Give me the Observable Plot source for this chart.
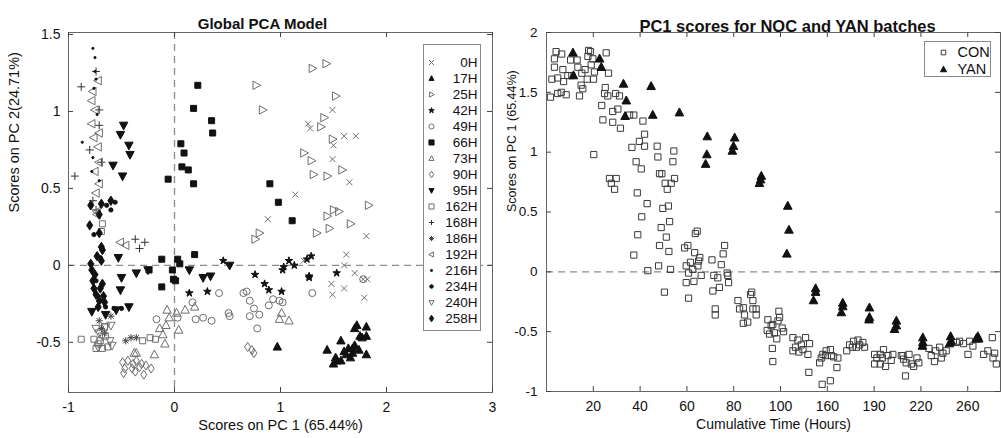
<!DOCTYPE html>
<html><head><meta charset="utf-8">
<script src="https://cdn.jsdelivr.net/npm/d3@7"></script>
<script src="https://cdn.jsdelivr.net/npm/@observablehq/plot@0.6"></script>
<style>
body{margin:0;background:#fff;font-family:"Liberation Sans",Arial,sans-serif;}
#wrap{position:relative;width:1003px;height:438px;overflow:hidden;background:#fff}
#wrap svg{position:absolute;top:0}
.lg{position:absolute;border:1px solid #8a8a8a;background:#fff;}
.lg svg{position:static !important;display:block}
</style></head>
<body><div id="wrap"></div>
<script>
// ---------- Left panel data: PCA scores [PC1, PC2] per sampling time ----------
const h0   = [[1.49,1.01],[1.26,0.92],[1.28,0.89],[1.60,0.84],[1.71,0.84],[1.50,0.78],[1.49,0.69],[1.65,0.54],[1.14,0.46],[0.88,0.30],[1.81,0.19],[1.62,0.07],[1.60,0.00],[1.22,0.03],[1.70,-0.05],[1.78,-0.09],[1.82,-0.09],[1.48,-0.12],[1.60,-0.15],[1.49,-0.19],[1.79,-0.21]];
const h17  = [[1.72,-0.39],[1.81,-0.40],[1.70,-0.41],[1.75,-0.46],[1.81,-0.46],[1.77,-0.47],[1.57,-0.49],[1.44,-0.55],[1.64,-0.54],[1.68,-0.54],[1.68,-0.57],[1.74,-0.55],[1.81,-0.58],[1.62,-0.58],[1.66,-0.60],[1.52,-0.60],[1.57,-0.62],[1.50,-0.64],[1.53,-0.62],[0.97,-0.53],[1.60,-0.56],[1.70,-0.52]];
const h25  = [[1.30,1.28],[1.43,1.31],[0.77,1.17],[1.52,1.10],[0.83,1.01],[1.41,0.96],[1.38,0.90],[1.49,0.82],[1.22,0.73],[1.29,0.68],[1.31,0.59],[1.44,0.58],[1.58,0.62],[1.83,0.39],[1.50,0.36],[1.55,0.35],[1.44,0.32],[0.80,0.21],[0.76,0.17],[1.34,0.21],[1.46,0.24],[1.66,0.27]];
const h42  = [[1.29,0.06],[1.25,0.04],[1.08,0.03],[1.13,0.00],[1.03,-0.01],[1.02,-0.03],[1.27,-0.07],[1.27,-0.08],[1.53,-0.05],[0.76,-0.06],[0.85,-0.12],[0.89,-0.16],[1.01,-0.17],[0.46,0.03],[0.14,-0.18],[0.31,-0.17]];
const h49  = [[0.65,-0.18],[0.68,-0.17],[0.71,-0.23],[0.75,-0.28],[0.71,-0.33],[0.80,-0.32],[0.78,-0.41],[0.89,-0.26],[0.93,-0.22],[0.99,-0.23],[1.02,-0.24],[1.30,-0.18],[1.78,-0.09],[-0.17,-0.35],[0.17,-0.24],[0.20,-0.35],[0.27,-0.34],[0.35,-0.36],[0.42,-0.18],[0.51,-0.31],[0.52,-0.33],[0.03,-0.34]];
const h66  = [[0.22,1.17],[0.18,1.02],[0.35,0.94],[0.36,0.86],[0.06,0.79],[0.09,0.73],[0.07,0.64],[0.13,0.62],[-0.06,0.56],[0.18,0.53],[-0.12,0.04],[0.03,0.04],[0.05,0.01],[0.19,0.07],[-0.24,-0.03],[-0.02,-0.03],[-0.01,-0.09],[0.01,-0.10],[-0.12,-0.14],[0.90,0.53],[0.98,0.41],[1.11,0.29]];
const h73  = [[-0.07,-0.29],[0.02,-0.31],[0.10,-0.29],[0.19,-0.27],[-0.05,-0.34],[-0.08,-0.39],[-0.14,-0.41],[-0.11,-0.45],[-0.09,-0.51],[-0.19,-0.58],[-0.38,-0.57],[-0.36,-0.57],[0.04,-0.42],[1.01,-0.31],[0.99,-0.35],[1.08,-0.36]];
const h90  = [[-0.49,-0.63],[-0.44,-0.62],[-0.39,-0.64],[-0.36,-0.62],[-0.31,-0.64],[-0.27,-0.65],[-0.22,-0.67],[-0.47,-0.67],[-0.40,-0.67],[-0.33,-0.66],[-0.29,-0.71],[-0.48,-0.70],[-0.37,-0.69],[0.69,-0.53],[0.73,-0.55],[0.75,-0.57]];
const h95  = [[-0.48,0.91],[-0.51,0.85],[-0.43,0.78],[-0.42,0.72],[-0.58,0.65],[-0.49,0.58],[-0.53,0.05],[-0.50,-0.08],[-0.51,-0.16],[-0.36,-0.05],[-0.25,-0.03],[-0.78,-0.30],[-0.43,-0.27],[0.14,-0.03],[0.27,-0.08],[0.34,-0.07],[0.52,0.00],[-0.65,-0.32],[-0.55,-0.29]];
const h162 = [[-0.88,-0.48],[-0.76,-0.48],[-0.74,-0.54],[-0.68,-0.54],[-0.63,-0.53],[-0.30,-0.49],[-0.23,-0.47],[-0.18,-0.48],[-0.70,-0.49],[-0.66,-0.40],[-0.69,0.22],[-0.68,0.27],[-0.72,-0.51],[-0.65,-0.46]];
const h168 = [[-0.88,1.16],[-0.80,0.75],[-0.94,0.58],[-0.71,0.91],[-0.74,1.26],[-0.71,1.01],[-0.37,0.17],[-0.28,0.15],[-0.33,0.11],[-0.77,0.42],[-0.69,0.67],[-0.74,0.36]];
const h186 = [[-0.46,-0.49],[-0.41,-0.47],[-0.36,-0.47],[-0.71,-0.36],[-0.69,-0.41],[-0.66,-0.44],[-0.60,-0.33]];
const h192 = [[-0.77,1.13],[-0.78,1.07],[-0.75,1.01],[-0.78,0.92],[-0.71,0.86],[-0.72,0.77],[-0.71,0.67],[-0.75,0.61],[-0.71,0.53],[-0.74,0.47],[-0.73,0.35],[-0.73,0.33],[-0.51,0.15],[-0.46,0.13],[-0.76,0.83],[-0.72,1.20]];
const h216 = [[-0.77,1.41],[-0.75,1.35],[-0.75,1.26],[-0.74,1.21],[-0.76,1.15],[-0.87,0.80],[-0.78,0.61],[-0.71,0.55],[-0.73,0.98],[-0.77,0.70]];
const h234 = [[-0.60,0.36],[-0.56,0.41],[-0.64,0.39],[-0.65,-0.27],[-0.57,-0.28],[-0.50,-0.28],[-0.74,-0.10],[-0.72,-0.20],[-0.70,0.05],[-0.76,0.20]];
const h240 = [[-0.74,-0.41],[-0.71,-0.44],[-0.68,-0.46],[-0.65,-0.40],[-0.61,-0.49],[-0.59,-0.52],[-0.72,-0.53],[-0.60,-0.39]];
const h258 = [[-0.79,0.39],[-0.69,0.40],[-0.60,0.42],[-0.71,0.33],[-0.80,0.26],[-0.71,0.21],[-0.69,0.12],[-0.68,0.10],[-0.78,-0.03],[-0.77,-0.10],[-0.68,-0.12],[-0.76,-0.15],[-0.71,-0.23],[-0.66,-0.24],[-0.79,0.01],[-0.69,0.03],[-0.74,-0.19],[-0.72,-0.27],[-0.75,-0.06],[-0.70,-0.15],[-0.73,0.06],[-0.67,-0.20]];

const timeLabels = ["0H","17H","25H","42H","49H","66H","73H","90H","95H","162H","168H","186H","192H","216H","234H","240H","258H"];
const timeSeries = [h0,h17,h25,h42,h49,h66,h73,h90,h95,h162,h168,h186,h192,h216,h234,h240,h258];
const pc1Ticks = [-1,0,1,2,3];
const pc2Ticks = [-0.5,0,0.5,1,1.5];

// ---------- Right panel data: [sample position on time axis, PC1 score] ----------
const con = [[4.1,1.84],[6.5,1.82],[3.4,1.78],[3.4,1.71],[2.3,1.61],[4.8,1.62],[7.3,1.59],[7.0,1.69],[9.1,1.64],[10.8,1.64],[10.3,1.77],[13.1,1.77],[13.4,1.71],[15.1,1.66],[16.5,1.69],[18.0,1.85],[18.8,1.84],[17.7,1.80],[19.8,1.78],[19.1,1.73],[20.5,1.67],[17.4,1.61],[20.1,1.61],[25.5,1.83],[26.5,1.66],[14.8,1.56],[15.5,1.53],[14.1,1.47],[8.4,1.48],[4.8,1.49],[1.7,1.46],[6.3,1.50],[20.2,0.98],[25.1,1.54],[24.8,1.49],[26.2,1.47],[23.6,1.39],[24.1,1.27],[28.3,1.25],[29.5,1.49],[31.2,1.47],[30.5,1.36],[28.3,1.34],[31.6,1.20],[35.5,1.31],[37.3,1.31],[41.2,1.26],[41.9,1.15],[39.7,1.09],[36.5,1.04],[41.9,1.05],[47.3,1.05],[54.4,1.01],[47.6,0.96],[38.3,0.92],[40.5,0.86],[48.3,0.82],[49.3,0.82],[54.0,0.92],[26.9,0.78],[29.8,0.78],[27.7,0.74],[29.1,0.69],[50.7,0.74],[53.3,0.74],[54.7,0.78],[51.6,0.69],[38.8,0.66],[43.0,0.57],[49.7,0.53],[52.1,0.55],[40.7,0.46],
[52.6,0.42],[39.0,0.31],[49.0,0.37],[51.2,0.29],[37.3,0.14],[48.3,0.22],[52.3,0.17],[43.3,0.01],[47.9,0.05],[53.0,0.02],[50.4,-0.17],[59.0,0.20],[60.4,0.22],[63.6,0.32],[64.4,0.34],[63.3,0.16],[59.7,0.05],[61.5,0.08],[62.5,0.02],[60.7,-0.01],[59.7,-0.09],[60.7,-0.22],[63.0,-0.08],[64.7,0.05],[65.0,0.09],[65.5,0.12],[66.1,-0.03],[70.7,0.10],[71.5,-0.03],[74.7,0.06],[75.5,0.15],[76.1,0.22],[77.5,-0.03],[77.2,-0.01],[77.8,-0.09],[73.2,-0.05],[73.9,-0.13],[71.1,-0.16],[72.1,-0.31],[72.1,-0.36],[81.8,-0.24],[82.5,-0.31],[84.1,-0.30],[84.6,-0.36],[84.1,-0.43],[86.0,-0.42],[87.7,-0.17],[87.2,-0.19],[88.2,-0.24],[88.2,-0.31],[89.6,-0.31],[89.6,-0.36],[94.6,-0.40],[94.3,-0.49],[96.0,-0.45],[96.5,-0.64],[96.7,-0.75],[97.4,-0.51],
[99.3,-0.33],[99.6,-0.38],[100.7,-0.47],[101.3,-0.50],[98.4,-0.56],[95.3,-0.52],[96.7,-0.44],[98.9,-0.41],
[105.3,-0.55],[106.4,-0.63],[107.4,-0.57],[108.9,-0.61],[110.7,-0.55],[112.4,-0.60],[109.6,-0.65],[111.7,-0.69],[105.3,-0.66],[112.1,-0.84],[107.8,-0.67],
[116.7,-0.76],[118.1,-0.69],[119.5,-0.66],[121.3,-0.65],[122.7,-0.71],[124.5,-0.72],[124.1,-0.80],[119.2,-0.70],[121.7,-0.70],[117.8,-0.94],[121.3,-0.91],[117.4,-0.72],
[128.3,-0.66],[129.5,-0.61],[131.2,-0.58],[132.4,-0.63],[133.8,-0.61],[135.2,-0.59],[135.9,-0.63],[133.1,-0.57],[130.7,-0.63],
[140.2,-0.69],[141.2,-0.72],[142.6,-0.69],[144.0,-0.65],[145.9,-0.70],[147.3,-0.74],[140.2,-0.77],[142.6,-0.77],[144.9,-0.79],[148.0,-0.69],[143.5,-0.72],
[151.6,-0.70],[152.6,-0.73],[154.9,-0.69],[153.7,-0.76],[155.9,-0.77],[156.9,-0.79],[159.1,-0.76],[158.3,-0.72],[153.4,-0.87],[152.3,-0.70],
[163.4,-0.64],[164.4,-0.70],[166.3,-0.66],[168.0,-0.63],[169.4,-0.68],[170.8,-0.66],[165.8,-0.75],[168.7,-0.72],
[175.1,-0.59],[176.5,-0.58],[178.2,-0.60],[180.1,-0.69],[180.8,-0.58],[182.2,-0.62],
[186.8,-0.69],[188.6,-0.66],[190.5,-0.55],[190.8,-0.72],[192.2,-0.77],[191.5,-0.68]];
const yan = [[11.3,1.83],[22.7,1.78],[23.4,1.71],[11.5,1.64],[32.9,1.57],[44.7,1.55],[34.1,1.43],[33.6,1.30],[45.4,1.31],[56.8,1.33],[68.7,1.13],[80.4,1.12],[68.5,0.98],[68.0,0.90],[79.9,1.05],[79.4,1.01],[91.8,0.80],[91.5,0.77],[91.0,0.74],[103.1,0.55],[103.6,0.35],[102.7,0.15],[115.0,-0.14],[115.0,-0.17],[114.1,-0.24],[126.6,-0.26],[126.6,-0.29],[126.0,-0.34],[138.0,-0.30],[138.0,-0.38],[137.8,-0.40],[149.5,-0.41],[149.5,-0.45],[148.7,-0.48],[160.8,-0.55],[160.8,-0.59],[160.6,-0.62],[172.7,-0.54],[173.0,-0.58],[172.2,-0.60],[184.3,-0.54],[184.7,-0.56],[183.6,-0.56]];
const batchLabels = ["CON","YAN"];
const timeTickPos = [20,40,60,80,100,120,140,160,180];
const timeTickLabels = ["20","40","60","80","100","160","190","220","260"];
const pc1ScoreTicks = [-1,-0.5,0,0.5,1,1.5,2];

// ---------- marker shapes ----------
function shape(fn){ return {draw(c,size){ fn(c, Math.sqrt(size/Math.PI)); }}; }
function polygon(pts){ return shape((c,r)=>{ pts.forEach(([x,y],i)=> i ? c.lineTo(x*r,y*r) : c.moveTo(x*r,y*r)); c.closePath(); }); }
const starPts = d3.range(10).map(i => { const a = -Math.PI/2 + i*Math.PI/5, k = i%2 ? 0.42 : 1.1; return [k*Math.cos(a), k*Math.sin(a)]; });
const SYM = {
  times: shape((c,r)=>{c.moveTo(-r,-r);c.lineTo(r,r);c.moveTo(-r,r);c.lineTo(r,-r);}),
  plus: shape((c,r)=>{c.moveTo(-r,0);c.lineTo(r,0);c.moveTo(0,-r);c.lineTo(0,r);}),
  aster: shape((c,r)=>{c.moveTo(-r,0);c.lineTo(r,0);c.moveTo(0,-r);c.lineTo(0,r);const k=r*0.72;c.moveTo(-k,-k);c.lineTo(k,k);c.moveTo(-k,k);c.lineTo(k,-k);}),
  circle: shape((c,r)=>{c.moveTo(r,0);c.arc(0,0,r,0,2*Math.PI);}),
  up: polygon([[0,-1.1],[1,0.75],[-1,0.75]]),
  down: polygon([[0,1.1],[1,-0.75],[-1,-0.75]]),
  right: polygon([[1.1,0],[-0.75,-1],[-0.75,1]]),
  left: polygon([[-1.1,0],[0.75,-1],[0.75,1]]),
  square: polygon([[-1,-1],[1,-1],[1,1],[-1,1]]),
  diamond: polygon([[0,-1.3],[0.85,0],[0,1.3],[-0.85,0]]),
  star: polygon(starPts)
};
const GREY = "#6e6e6e", BLACK = "#111";
// style per series, same order as timeLabels
const styles = [
  {symbol:SYM.times, r:3, fill:"none", stroke:GREY},
  {symbol:SYM.up, r:4.2, fill:BLACK, stroke:BLACK},
  {symbol:SYM.right, r:4.2, fill:"none", stroke:GREY},
  {symbol:SYM.star, r:3.6, fill:BLACK, stroke:BLACK},
  {symbol:SYM.circle, r:3.5, fill:"none", stroke:GREY},
  {symbol:SYM.square, r:3, fill:BLACK, stroke:BLACK},
  {symbol:SYM.up, r:4.2, fill:"none", stroke:GREY},
  {symbol:SYM.diamond, r:3.5, fill:"none", stroke:GREY},
  {symbol:SYM.down, r:4.2, fill:BLACK, stroke:BLACK},
  {symbol:SYM.square, r:3, fill:"none", stroke:GREY},
  {symbol:SYM.plus, r:4, fill:"none", stroke:"#333"},
  {symbol:SYM.aster, r:3.6, fill:"none", stroke:"#444"},
  {symbol:SYM.left, r:4.2, fill:"none", stroke:GREY},
  {symbol:SYM.circle, r:1.1, fill:BLACK, stroke:BLACK},
  {symbol:SYM.circle, r:2.1, fill:BLACK, stroke:BLACK},
  {symbol:SYM.down, r:4.2, fill:"none", stroke:GREY},
  {symbol:SYM.diamond, r:3.6, fill:BLACK, stroke:BLACK}
];

const FONT = "'Liberation Sans', Arial, sans-serif";
const baseStyle = {fontFamily: FONT, fontSize: "14px", background: "transparent", overflow: "visible", color: "#111"};
const dash = {stroke:"#8c8c8c", strokeDasharray:"7,5", strokeWidth:1.3};
const wrap = document.getElementById("wrap");

// ---------- Left panel ----------
const LW = 500, LH = 438, LM = {l:68, r:8, t:32, b:46};
const lpw = LW - LM.l - LM.r, lph = LH - LM.t - LM.b;
const left = Plot.plot({
  width: LW, height: LH, marginLeft: LM.l, marginRight: LM.r, marginTop: LM.t, marginBottom: LM.b,
  style: baseStyle,
  x: {domain: [-1, 3]}, y: {domain: [-0.826, 1.513]},
  marks: [
    Plot.ruleY([0], dash),
    Plot.ruleX([0], dash),
    ...timeSeries.map((s, i) => Plot.dot(s, {x: d => d[0], y: d => d[1], ...styles[i], strokeWidth: 1})),
    Plot.frame({stroke: "#666"}),
    Plot.tickX(pc1Ticks, {x: d => d, insetTop: lph - 5, stroke: "#444"}),
    Plot.tickX(pc1Ticks, {x: d => d, insetBottom: lph - 5, stroke: "#444"}),
    Plot.tickY(pc2Ticks, {y: d => d, insetRight: lpw - 5, stroke: "#444"}),
    Plot.tickY(pc2Ticks, {y: d => d, insetLeft: lpw - 5, stroke: "#444"}),
    Plot.axisX({ticks: pc1Ticks, tickSize: 0, tickPadding: 10, tickFormat: d => String(d), label: null, fontSize: 14}),
    Plot.axisY({ticks: pc2Ticks, tickSize: 0, tickPadding: 8, tickFormat: d => String(d), label: null, fontSize: 14}),
    Plot.text(["Scores on PC 1 (65.44%)"], {text: d => d, frameAnchor: "bottom", dy: 37, fontSize: 14.5}),
    Plot.text(["Scores on PC 2(24.71%)"], {text: d => d, frameAnchor: "left", dx: -54, rotate: -90, fontSize: 14.5}),
    Plot.text(["Global PCA Model"], {text: d => d, frameAnchor: "top", dx: -18, dy: -14, fontSize: 15, fontWeight: "bold"})
  ]
});
left.style.left = "0px";
wrap.appendChild(left);

// Left legend
const lgL = document.createElement("div");
lgL.className = "lg";
Object.assign(lgL.style, {left: "423px", top: "44px", width: "56px", height: "285px"});
lgL.appendChild(Plot.plot({
  width: 56, height: 285, margin: 0, style: baseStyle,
  y: {type: "point", domain: timeLabels, range: [9, 280], padding: 0, axis: null},
  marks: [
    ...timeLabels.map((lab, i) => Plot.dot([lab], {y: d => d, frameAnchor: "left", dx: 7, ...styles[i], r: Math.min(styles[i].r, 3) * (styles[i].r < 2 ? 1 : 0.85), strokeWidth: 1})),
    Plot.text(timeLabels, {y: d => d, text: d => d, frameAnchor: "right", dx: -3, textAnchor: "end", fontSize: 13.5})
  ]
}));
wrap.appendChild(lgL);

// ---------- Right panel ----------
const RW = 503, RH = 438, RM = {l:46, r:3, t:32, b:47};
const rpw = RW - RM.l - RM.r, rph = RH - RM.t - RM.b;
const tickLab = new Map(timeTickPos.map((p, i) => [p, timeTickLabels[i]]));
const right = Plot.plot({
  width: RW, height: RH, marginLeft: RM.l, marginRight: RM.r, marginTop: RM.t, marginBottom: RM.b,
  style: baseStyle,
  x: {domain: [0, 194]}, y: {domain: [-1, 2]},
  marks: [
    Plot.ruleY([0], dash),
    Plot.dot(con, {x: d => d[0], y: d => d[1], symbol: SYM.square, r: 3.1, fill: "none", stroke: "#3a3a3a", strokeWidth: 1}),
    Plot.dot(yan, {x: d => d[0], y: d => d[1], symbol: SYM.up, r: 4.3, fill: BLACK, stroke: BLACK, strokeWidth: 1}),
    Plot.frame({stroke: "#666"}),
    Plot.tickX(timeTickPos, {x: d => d, insetTop: rph - 5, stroke: "#444"}),
    Plot.tickX(timeTickPos, {x: d => d, insetBottom: rph - 5, stroke: "#444"}),
    Plot.tickY(pc1ScoreTicks, {y: d => d, insetRight: rpw - 5, stroke: "#444"}),
    Plot.tickY(pc1ScoreTicks, {y: d => d, insetLeft: rpw - 5, stroke: "#444"}),
    Plot.axisX({ticks: timeTickPos, tickSize: 0, tickPadding: 10, tickFormat: d => tickLab.get(d), label: null, fontSize: 14}),
    Plot.axisY({ticks: pc1ScoreTicks, tickSize: 0, tickPadding: 9, tickFormat: d => String(d), label: null, fontSize: 13.5}),
    Plot.text(["Cumulative Time (Hours)"], {text: d => d, frameAnchor: "bottom", dy: 37, fontSize: 14}),
    Plot.text(["Scores on PC 1 (65.44%)"], {text: d => d, frameAnchor: "left", dx: -35, rotate: -90, fontSize: 12.5}),
    Plot.text(["PC1 scores for NOC and YAN batches"], {text: d => d, frameAnchor: "top", dx: 14, dy: -12, fontSize: 16.5, fontWeight: "bold"})
  ]
});
right.style.left = "500px";
wrap.appendChild(right);

// Right legend
const lgR = document.createElement("div");
lgR.className = "lg";
Object.assign(lgR.style, {left: "924px", top: "41px", width: "65px", height: "34px"});
const batchSyms = [{symbol: SYM.square, r: 2.3, fill: "none", stroke: "#3a3a3a"}, {symbol: SYM.up, r: 3, fill: BLACK, stroke: BLACK}];
lgR.appendChild(Plot.plot({
  width: 65, height: 34, margin: 0, style: baseStyle,
  y: {type: "point", domain: batchLabels, range: [10, 27], padding: 0, axis: null},
  marks: [
    ...batchLabels.map((lab, i) => Plot.dot([lab], {y: d => d, frameAnchor: "left", dx: 18, ...batchSyms[i], strokeWidth: 1})),
    Plot.text(batchLabels, {y: d => d, text: d => d, frameAnchor: "left", dx: 32, textAnchor: "start", fontSize: 14.5})
  ]
}));
wrap.appendChild(lgR);
</script>
</body></html>
